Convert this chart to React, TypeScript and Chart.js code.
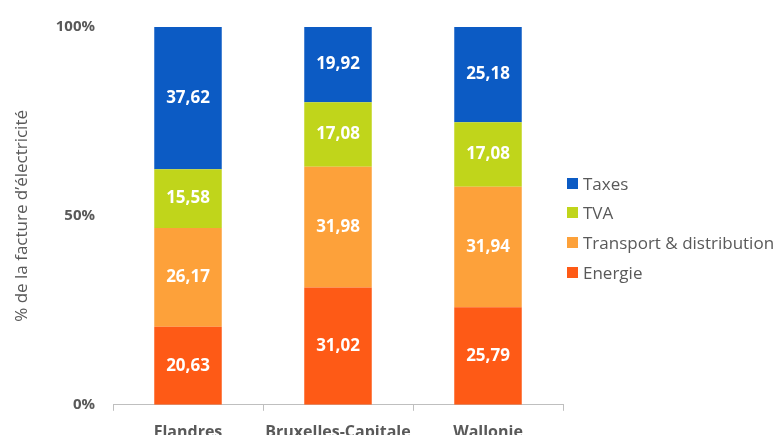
import React, { useEffect, useRef } from "react";
import { Chart, registerables } from "chart.js";

Chart.register(...registerables);

const categories = ["Flandres", "Bruxelles-Capitale", "Wallonie"];
const seriesNames = ["Energie", "Transport & distribution", "TVA", "Taxes"];
const energie = [20.63, 31.02, 25.79];
const transport = [26.17, 31.98, 31.94];
const tva = [15.58, 17.08, 17.08];
const taxes = [37.62, 19.92, 25.18];
const seriesColors = ["#fe5a16", "#fda13a", "#c0d51b", "#0c5bc4"];
const yTicks = [0, 50, 100];

const FONT = "'Open Sans', 'DejaVu Sans', sans-serif";
const GRAY = "#595959";
const H = 459;

const labelPlugin = {
  id: "barLabels",
  afterDatasetsDraw(chart: any) {
    const ctx = chart.ctx;
    ctx.save();
    ctx.fillStyle = "#ffffff";
    ctx.font = `bold 17px ${FONT}`;
    ctx.textAlign = "center";
    ctx.textBaseline = "middle";
    chart.data.datasets.forEach((ds: any, i: number) => {
      const meta = chart.getDatasetMeta(i);
      meta.data.forEach((el: any, j: number) => {
        const v = ds.data[j] as number;
        const y = (el.y + el.base) / 2;
        ctx.fillText(v.toFixed(2).replace(".", ","), el.x, y);
      });
    });
    ctx.restore();
  },
};

export default function App() {
  const ref = useRef<HTMLCanvasElement>(null);
  useEffect(() => {
    if (!ref.current) return;
    const values = [energie, transport, tva, taxes];
    const chart = new Chart(ref.current, {
      type: "bar",
      data: {
        labels: categories,
        datasets: seriesNames.map((n, i) => ({
          label: n,
          data: values[i],
          backgroundColor: seriesColors[i],
          borderWidth: 0,
          barPercentage: 0.45,
          categoryPercentage: 1,
        })),
      },
      options: {
        animation: false,
        responsive: false,
        maintainAspectRatio: false,
        layout: { padding: { top: 27, right: 217, bottom: 5, left: 0 } },
        plugins: {
          legend: { display: false },
          tooltip: { enabled: false },
        },
        scales: {
          x: {
            stacked: true,
            grid: {
              display: true,
              drawOnChartArea: false,
              drawTicks: true,
              tickLength: 6,
              color: "#bfbfbf",
            },
            border: { display: true, color: "#bfbfbf", width: 1 },
            ticks: {
              color: GRAY,
              font: { family: FONT, size: 16, weight: "bold" },
              padding: 12,
              maxRotation: 0,
              minRotation: 0,
              autoSkip: false,
            },
          },
          y: {
            stacked: true,
            min: 0,
            max: 100,
            afterBuildTicks: (scale: any) => {
              scale.ticks = yTicks.map((v) => ({ value: v }));
            },
            afterFit: (scale: any) => {
              scale.width = 113;
            },
            grid: { display: false, drawTicks: false },
            border: { display: false },
            ticks: {
              color: GRAY,
              font: { family: FONT, size: 15, weight: "bold" },
              padding: 18,
              callback: (v: any) => `${v}%`,
            },
            title: {
              display: true,
              text: "% de la facture d’électricité",
              color: GRAY,
              font: { family: FONT, size: 17 },
              padding: { top: 12, bottom: 0 },
            },
          },
        },
      },
      plugins: [labelPlugin],
    });
    return () => chart.destroy();
  }, []);

  const legendOrder = [3, 2, 1, 0];
  return (
    <div style={{ position: "absolute", left: 0, top: 0, width: 780, height: H }}>
      <canvas ref={ref} width={780} height={H} style={{ width: 780, height: H }} />
      <div style={{ position: "absolute", left: 567, top: 173, fontFamily: FONT, fontSize: 17, color: GRAY }}>
        {legendOrder.map((i) => (
          <div key={i} style={{ display: "flex", alignItems: "center", height: 20, marginBottom: 9.7 }}>
            <span style={{ display: "inline-block", width: 11, height: 11, background: seriesColors[i], marginRight: 5 }} />
            <span style={{ whiteSpace: "nowrap" }}>{seriesNames[i]}</span>
          </div>
        ))}
      </div>
    </div>
  );
}
